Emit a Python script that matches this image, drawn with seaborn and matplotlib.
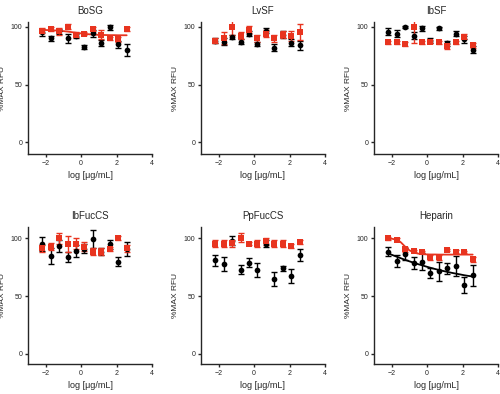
import numpy as np
import pandas as pd
import matplotlib
matplotlib.use("Agg")
import matplotlib.pyplot as plt
import seaborn as sns

# -------------------------------
# DATA
# -------------------------------
log_conc = [-2.2, -1.72, -1.25, -0.77, -0.29, 0.18, 0.66, 1.14, 1.62, 2.09, 2.57]
fit_x = [-2.2, -1.96, -1.72, -1.48, -1.25, -1.01, -0.77, -0.53, -0.29, -0.05, 0.18,
         0.42, 0.66, 0.9, 1.14, 1.38, 1.62, 1.86, 2.09, 2.33, 2.57]

panel_names = ["BoSG", "LvSF", "IbSF", "IbFucCS", "PpFucCS", "Heparin"]

bosg_black = [95, 90, 96, 90, 92, 82.5, 94.5, 86, 99.5, 85, 80]
bosg_black_err = [3, 2, 2, 4, 2, 1.5, 3, 2.5, 2, 3, 5]
bosg_red = [96.5, 98, 96, 100, 93, 94, 98, 93, 90, 89, 98]
bosg_red_err = [2, 2, 3, 2, 2, 1.5, 2, 4, 1.5, 2, 2]

lvsf_black = [88, 87, 91, 87, 94, 85, 96.5, 82, 93, 86, 84]
lvsf_black_err = [2, 3, 2, 2, 2, 2, 2, 3, 3, 3, 4]
lvsf_red = [88, 90, 100, 92, 97.5, 90, 94, 90, 93, 92, 95.5]
lvsf_red_err = [2, 5, 7, 3, 3, 3, 3, 3, 3, 4, 7]

ibsf_black = [95.5, 94, 99.5, 92, 98.5, 88, 98.5, 85.5, 94, 89, 80]
ibsf_black_err = [3, 3, 1, 3, 2, 2, 1, 2, 2, 3, 3]
ibsf_red = [86.5, 86.5, 85, 100, 86.5, 87, 86.5, 83, 86.5, 91.5, 84]
ibsf_red_err = [1.5, 1.5, 1.5, 14, 1.5, 1.5, 1.5, 2, 1.5, 2, 2]

ibfuccs_black = [95, 85, 93.5, 84, 89, 91, 99.5, 88.5, 95, 80, 91]
ibfuccs_black_err = [6, 7, 5, 4, 5, 4, 8, 3, 4, 4, 6]
ibfuccs_red = [91.5, 93, 100, 95.5, 95.5, 93, 88.5, 88.5, 91, 100.5, 91.5]
ibfuccs_red_err = [3, 3, 5, 7, 5, 4, 3, 3, 2, 2, 3]

ppfuccs_black = [81, 77.5, 98, 73, 79, 72.5, 95.5, 65, 74, 67.5, 85.5]
ppfuccs_black_err = [5, 6, 4, 4, 4, 6, 3, 6, 2.5, 6, 5]
ppfuccs_red = [95.5, 95.5, 96, 100.5, 95.5, 95.5, 97.5, 95.5, 95.5, 93.5, 97]
ppfuccs_red_err = [3, 3, 3, 4, 1, 3, 3, 3, 3, 2, 2]

heparin_black = [88.5, 80.5, 86.5, 78.5, 80, 70, 71.5, 74, 76, 59.5, 68]
heparin_black_err = [4, 5, 5, 5, 7, 4, 8, 5, 9, 7, 9]
heparin_red = [100, 99, 90.5, 89, 88.5, 83.5, 83.5, 90, 88.5, 88, 82]
heparin_red_err = [1, 1, 2, 1, 1, 2, 2, 1, 1.5, 1, 2]

# fitted curves, read at fit_x
bosg_red_fit = [97.2, 97.1, 97.0, 96.8, 96.5, 96.2, 95.8, 95.3, 94.8, 94.3, 93.9,
                93.5, 93.2, 93.0, 92.9, 92.8, 92.7, 92.7, 92.6, 92.6, 92.6]
heparin_red_fit = [100, 99.7, 98.8, 96.6, 93.0, 89.8, 87.9, 86.9, 86.4, 86.2, 86.1,
                   86.1, 86.0, 86.0, 86.0, 86.0, 86.0, 86.0, 86.0, 86.0, 86.0]
heparin_black_fit = [87, 85.6, 84.2, 82.8, 81.5, 80.2, 79, 77.8, 76.7, 75.6, 74.6,
                     73.6, 72.7, 71.8, 71, 70.2, 69.5, 68.8, 68.1, 67.5, 67]

black_vals = [bosg_black, lvsf_black, ibsf_black, ibfuccs_black, ppfuccs_black, heparin_black]
black_errs = [bosg_black_err, lvsf_black_err, ibsf_black_err, ibfuccs_black_err,
              ppfuccs_black_err, heparin_black_err]
red_vals = [bosg_red, lvsf_red, ibsf_red, ibfuccs_red, ppfuccs_red, heparin_red]
red_errs = [bosg_red_err, lvsf_red_err, ibsf_red_err, ibfuccs_red_err,
            ppfuccs_red_err, heparin_red_err]
black_fits = [None, None, None, None, None, heparin_black_fit]
red_fits = [bosg_red_fit, None, None, None, None, heparin_red_fit]

RED = "#e8341f"
BLACK = "#000000"

# -------------------------------
# STYLE
# -------------------------------
sns.set_theme(style="ticks")
plt.rcParams["font.family"] = ["Liberation Sans", "DejaVu Sans"]
plt.rcParams["axes.linewidth"] = 1.0
plt.rcParams["xtick.major.width"] = 1.0
plt.rcParams["ytick.major.width"] = 1.0
plt.rcParams["xtick.major.size"] = 2.5
plt.rcParams["ytick.major.size"] = 2.5

fig = plt.figure(figsize=(5.0, 3.94), dpi=100)

lefts = [0.056, 0.402, 0.748]
width = 0.248
rows = [(0.609, 0.335, (-10, 104)), (0.076, 0.348, (-9, 110))]

for k, name in enumerate(panel_names):
    r, c = divmod(k, 3)
    bottom, height, ylim = rows[r]
    ax = fig.add_axes([lefts[c], bottom, width, height])

    for vals, errs, fit, color, marker in [
        (black_vals[k], black_errs[k], black_fits[k], BLACK, "o"),
        (red_vals[k], red_errs[k], red_fits[k], RED, "s"),
    ]:
        df = pd.DataFrame({"x": log_conc, "y": vals, "err": errs})
        ax.errorbar(df["x"], df["y"], yerr=df["err"], fmt="none", ecolor=color,
                    elinewidth=1.0, capsize=2, capthick=1.0, zorder=2)
        sns.scatterplot(data=df, x="x", y="y", ax=ax, color=color, marker=marker,
                        s=17, edgecolor=color, linewidth=0, zorder=3)
        if fit is not None:
            fdf = pd.DataFrame({"x": fit_x, "y": fit})
            sns.lineplot(data=fdf, x="x", y="y", ax=ax, color=color, lw=1.3, zorder=2)

    ax.set_xlim(-3, 4)
    ax.set_ylim(*ylim)
    ax.set_xticks([-2, 0, 2, 4])
    ax.set_yticks([0, 50, 100])
    ax.tick_params(labelsize=5, pad=1.5)
    ax.set_title(name, fontsize=7, pad=6)
    ax.set_xlabel("log [μg/mL]", fontsize=6.5, labelpad=3)
    ax.set_ylabel("%MAX RFU", fontsize=6)
    ax.yaxis.set_label_coords(-0.175, 0.5)
    sns.despine(ax=ax)

fig.savefig("out.png", dpi=100)
